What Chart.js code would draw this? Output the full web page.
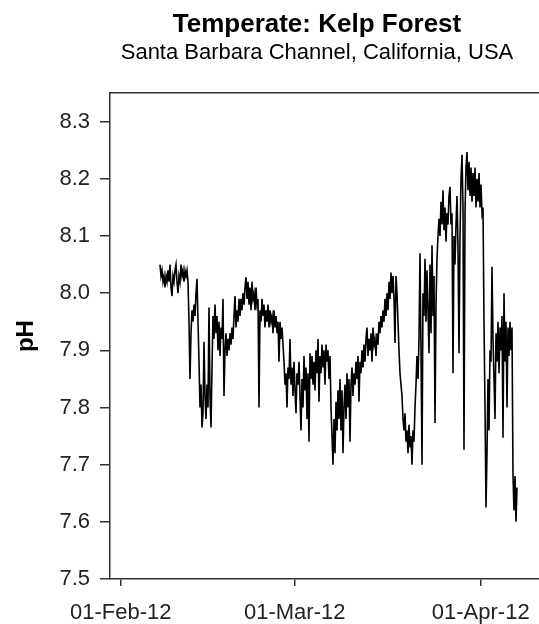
<!DOCTYPE html>
<html>
<head>
<meta charset="utf-8">
<script src="https://cdn.jsdelivr.net/npm/chart.js@4"></script>
<style>
  html, body { margin: 0; padding: 0; background: #fff; overflow: hidden; }
  #wrap { width: 634px; height: 624px; }
</style>
</head>
<body>
<div id="wrap"><canvas id="grafico" width="634" height="624"></canvas></div>
<script>
// Dias contados a partir de 01-Feb-12
const tickDays = [0, 29, 60];
const tickLabels = ['01-Feb-12', '01-Mar-12', '01-Apr-12'];
const yTicks = [7.5, 7.6, 7.7, 7.8, 7.9, 8.0, 8.1, 8.2, 8.3];

// Série de pH (leitura a cada 4 horas a partir do dia 6.55)
const startDay = 6.55;
const stepDay = 1 / 6;
const phValues = [
  8.05, 8.03, 8.04, 8.02, 8.03, 8.01, 8.03, 8.02, 8.04, 8.02,
  8.05, 8.01, 7.995, 8.03, 8.02, 8.04, 8.05, 8.02, 8.00, 8.03,
  8.02, 8.05, 8.03, 8.04, 8.02, 8.04, 8.03, 8.04, 8.02, 7.95,
  7.85, 7.93, 7.97, 7.95, 7.98, 7.96, 8.00, 8.025, 7.95, 7.88,
  7.80, 7.84, 7.765, 7.79, 7.915, 7.82, 7.78, 7.84, 7.80, 7.975,
  7.82, 7.765, 7.87, 7.96, 7.92, 7.98, 7.93, 7.96, 7.90, 7.95,
  7.89, 7.94, 7.92, 7.99, 7.82, 7.90, 7.93, 7.89, 7.92, 7.90,
  7.93, 7.91, 7.94, 7.92, 7.96, 7.995, 7.94, 7.97, 7.95, 7.99,
  7.96, 7.99, 7.97, 8.00, 7.98, 8.01, 8.028, 7.99, 8.02, 7.98,
  8.01, 7.97, 8.02, 7.99, 8.00, 7.97, 8.01, 7.98, 7.99, 7.80,
  7.97, 7.95, 7.99, 7.96, 7.98, 7.94, 7.97, 7.95, 7.98, 7.94,
  7.97, 7.95, 7.96, 7.93, 7.97, 7.94, 7.96, 7.93, 7.95, 7.88,
  7.95, 7.92, 7.94, 7.91, 7.88, 7.84, 7.86, 7.80, 7.87, 7.85,
  7.92, 7.84, 7.87, 7.82, 7.88, 7.83, 7.79, 7.86, 7.84, 7.88,
  7.82, 7.76, 7.85, 7.80, 7.89, 7.83, 7.87, 7.78, 7.86, 7.74,
  7.895, 7.85, 7.89, 7.84, 7.88, 7.83, 7.90, 7.86, 7.92, 7.81,
  7.89, 7.86, 7.91, 7.87, 7.90, 7.84, 7.91, 7.88, 7.90, 7.85,
  7.89, 7.80, 7.75, 7.70, 7.78, 7.72, 7.81, 7.76, 7.83, 7.78,
  7.85, 7.76, 7.83, 7.72, 7.80, 7.84, 7.78, 7.86, 7.80, 7.85,
  7.74, 7.84, 7.87, 7.82, 7.86, 7.84, 7.88, 7.85, 7.89, 7.81,
  7.88, 7.86, 7.90, 7.87, 7.91, 7.88, 7.92, 7.94, 7.89, 7.92,
  7.90, 7.93, 7.88, 7.94, 7.91, 7.92, 7.89, 7.93, 7.91, 7.95,
  7.93, 7.96, 7.94, 7.97, 7.95, 7.99, 7.96, 8.00, 7.97, 8.02,
  7.99, 8.036, 8.00, 8.03, 7.99, 7.913, 8.03, 8.00, 7.95, 7.90,
  7.86, 7.84, 7.82, 7.78, 7.76, 7.79, 7.74, 7.76, 7.72, 7.77,
  7.73, 7.75, 7.70, 7.76, 7.74, 7.80, 7.84, 7.89, 7.85, 7.92,
  8.07, 7.90, 7.70, 8.00, 7.96, 8.06, 7.95, 8.04, 7.97, 7.895,
  8.05, 7.93, 8.084, 7.96, 8.03, 7.773, 7.98, 8.06, 8.10, 8.13,
  8.10, 8.16, 8.12, 8.18, 8.11, 8.15, 8.09, 8.14, 8.12, 8.17,
  8.186, 8.12, 8.14, 7.86, 8.10, 8.05, 8.12, 8.17, 8.08, 7.895,
  8.10, 8.20, 8.242, 8.15, 7.726, 8.14, 8.22, 8.247, 8.18, 8.23,
  8.17, 8.22, 8.16, 8.21, 8.17, 8.22, 8.15, 8.20, 8.16, 8.21,
  8.15, 8.19, 8.14, 8.15, 7.95, 7.80, 7.625, 7.72, 7.85, 7.76,
  7.90, 7.88, 8.046, 7.92, 7.85, 7.78, 7.93, 7.88, 7.95, 7.86,
  7.94, 7.90, 7.96, 7.747, 8.00, 7.88, 7.95, 7.80, 7.94, 7.89,
  7.95, 7.90, 7.94, 7.68, 7.62, 7.68, 7.60, 7.66
];

// Monta os pontos {x: dia, y: pH}
const pontos = phValues.map((v, i) => ({ x: startDay + i * stepDay, y: v }));

const fonte = 'Liberation Sans, Arial, sans-serif';
const corEixo = '#333';

const ctx = document.getElementById('grafico').getContext('2d');
new Chart(ctx, {
  type: 'line',
  data: {
    datasets: [{
      data: pontos,
      borderColor: '#000',
      borderWidth: 1.6,
      pointRadius: 0,
      tension: 0,
      fill: false
    }]
  },
  options: {
    responsive: false,
    animation: false,
    layout: { padding: 0 },
    plugins: {
      legend: { display: false },
      tooltip: { enabled: false },
      title: {
        display: true,
        text: 'Temperate: Kelp Forest',
        color: '#000',
        font: { family: fonte, size: 26, weight: 'bold', lineHeight: 1.2 },
        padding: { top: 9, bottom: 0 }
      },
      subtitle: {
        display: true,
        text: 'Santa Barbara Channel, California, USA',
        color: '#000',
        font: { family: fonte, size: 22, weight: 'normal', lineHeight: 1.2 },
        padding: { top: 0, bottom: 18.5 }
      }
    },
    scales: {
      x: {
        type: 'linear',
        position: 'bottom',
        min: -1.783,
        max: 85.55,
        afterBuildTicks: s => { s.ticks = tickDays.map(v => ({ value: v })); },
        afterFit: s => { s.height = 45; },
        ticks: {
          color: '#222',
          font: { family: fonte, size: 22 },
          padding: 14,
          maxRotation: 0,
          callback: v => tickLabels[tickDays.indexOf(v)]
        },
        grid: { drawOnChartArea: false, tickLength: 7, color: corEixo, lineWidth: 1.5 },
        border: { display: true, color: corEixo, width: 1.5 }
      },
      x2: {
        type: 'linear',
        position: 'top',
        min: 0,
        max: 1,
        ticks: { display: false },
        grid: { display: false },
        border: { display: true, color: corEixo, width: 1.5 }
      },
      y: {
        min: 7.5,
        max: 8.35,
        afterBuildTicks: s => { s.ticks = yTicks.map(v => ({ value: v })); },
        afterFit: s => { s.width = 110; },
        ticks: {
          color: '#222',
          font: { family: fonte, size: 22 },
          padding: 10,
          callback: v => v.toFixed(1)
        },
        grid: { drawOnChartArea: false, tickLength: 10, color: corEixo, lineWidth: 1.5 },
        border: { display: true, color: corEixo, width: 1.5 },
        title: {
          display: true,
          text: 'pH',
          color: '#000',
          font: { family: fonte, size: 24, weight: 'bold', lineHeight: 1.2 },
          padding: { top: 12, bottom: 0 }
        }
      }
    }
  }
});
</script>
</body>
</html>
